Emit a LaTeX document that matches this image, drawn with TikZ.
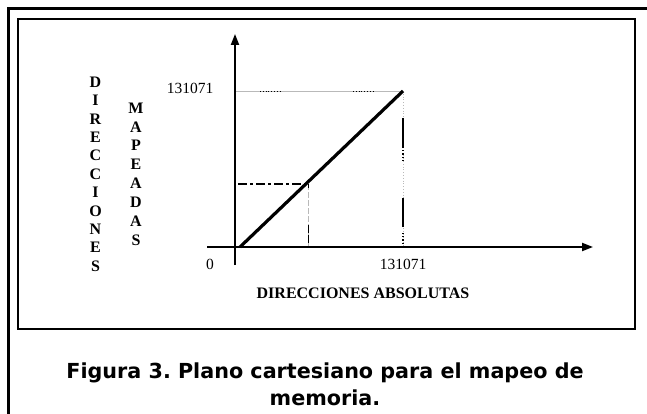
\documentclass[tikz,border=0pt]{standalone}
\usepackage{fontspec}
\setmainfont{Liberation Serif}
\newfontfamily\capfont{DejaVu Sans}
\usetikzlibrary{arrows.meta}

\begin{document}
\begin{tikzpicture} [x=1pt, y=-1pt,
    eje/.style={draw, line width=2pt, -{Triangle[length=11pt,width=8pt]}},
    guia/.style={draw, gray!55, line width=0.8pt},
    letra/.style={inner sep=0pt, font=\fontsize{16}{18}\selectfont\bfseries},
    cifra/.style={inner sep=0pt, font=\fontsize{15.5}{18}\selectfont} ]
    \useasboundingbox (0,0) rectangle (647,414);

    % marcos
    \draw[line width=3pt] (660,8.5) -- (8.5,8.5) -- (8.5,420);
    \draw[line width=1.3pt] (18,19) rectangle (635,329);

    % puntos del plano
    \coordinate (ys) at (235,265);
    \coordinate (ye) at (235,34);
    \coordinate (xs) at (207,247);
    \coordinate (xe) at (593,247);
    \coordinate (o) at (240,247);
    \coordinate (p) at (403,91);
    \coordinate (py) at (236,91);
    \coordinate (px) at (403,247);
    \coordinate (m) at (308,184);
    \coordinate (my) at (238,184);
    \coordinate (mx) at (308,247);

    % guias
    \draw[guia] (py) -- (p);
    \draw[guia, dotted, black] (py) ++(24,0) -- ++(20,0);
    \draw[guia, dotted, black] (p) ++(-50,0) -- ++(20,0);
    \draw[guia, dotted] (p) -- (px);
    \draw[line width=1.6pt, dash pattern=on 29pt off 51pt] (p) ++(0,27) -- ++(0,115);
    \draw[line width=1.2pt, dotted] (p) ++(0,56) -- ++(0,13);
    \draw[line width=1.2pt, dotted] (px) ++(0,-14) -- (px);
    \draw[guia, dash pattern=on 6pt off 2pt] (m) -- (mx);
    \draw[line width=1pt] (m) -- ++(0,4);
    \draw[line width=1pt, dash pattern=on 8pt off 2pt on 8pt off 10pt] (mx) ++(0,-22) -- (mx);
    \draw[line width=1.5pt, dash pattern=on 9pt off 3pt on 3pt off 3pt] (my) -- (m);

    % ejes y recta
    \draw[eje] (ys) -- (ye);
    \draw[eje] (xs) -- (xe);
    \draw[line width=3.2pt] (o) -- (p);

    % textos
    \node[cifra] (ymax) at (190,88.7) {131071};
    \node[cifra] (cero) at (210,264) {0};
    \node[cifra] (xmax) at (403,264) {131071};
    \node[inner sep=0pt, font=\fontsize{16}{18}\selectfont\bfseries] (absol) at (363,293.5) {DIRECCIONES ABSOLUTAS};

    \begin{scope}
        \clip (60,60) rectangle (160,271);
        \foreach \ch [count=\i] in {D,I,R,E,C,C,I,O,N,E,S}{
            \node[letra] (dir\i) at (95.5,82+18.4*\i-18.4) {\ch};
        }
        \foreach \ch [count=\i] in {M,A,P,E,A,D,A,S}{
            \node[letra] (map\i) at (136,108+18.86*\i-18.86) {\ch};
        }
    \end{scope}

    \node[inner sep=0pt, align=center, font=\capfont\fontsize{20.7}{27}\selectfont\bfseries\frenchspacing] (pie) at (325,384)
        {Figura 3. Plano cartesiano para el mapeo de\\ memoria.};
\end{tikzpicture}
\end{document}
